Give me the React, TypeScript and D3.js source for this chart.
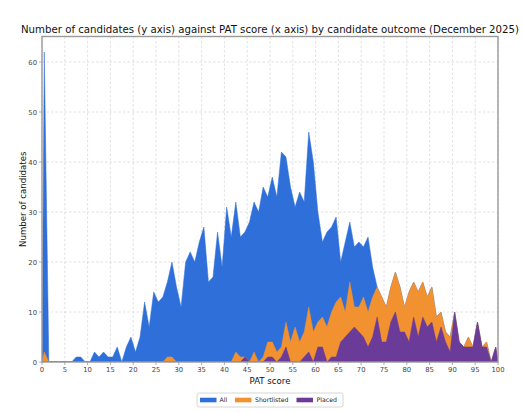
import React from "react";
import * as d3 from "d3";

// PAT score bins (lower edge); each count is plotted at the bin centre
const scoreBins = d3.range(0, 100);

const allCandidates = [
  62, 0, 0, 0, 0, 0, 0, 1, 1, 0,
  0, 2, 1, 2, 1, 1, 3, 0, 3, 5,
  2, 5, 12, 7, 14, 12, 13, 16, 20, 15,
  11, 20, 22, 20, 24, 27, 16, 17, 26, 19,
  31, 25, 32, 25, 26, 28, 32, 30, 35, 33,
  37, 33, 42, 41, 35, 31, 34, 32, 46, 40,
  30, 24, 26, 27, 29, 20, 24, 28, 23, 24,
  23, 25, 19, 15, 13, 11, 15, 18, 15, 11,
  14, 16, 14, 16, 13, 15, 9, 10, 6, 5,
  10, 4, 3, 5, 3, 8, 3, 4, 0, 3,
];

const shortlisted = [
  2, 0, 0, 0, 0, 0, 0, 0, 0, 0,
  0, 0, 0, 0, 0, 0, 0, 0, 0, 0,
  0, 0, 0, 0, 0, 0, 0, 1, 1, 0,
  0, 0, 0, 0, 0, 0, 0, 0, 0, 0,
  0, 0, 2, 1, 1, 0, 2, 0, 1, 4,
  4, 2, 3, 8, 4, 7, 4, 6, 11, 6,
  8, 9, 7, 10, 12, 13, 10, 16, 11, 11,
  13, 10, 13, 15, 13, 11, 15, 18, 15, 11,
  14, 16, 14, 16, 13, 15, 9, 10, 6, 5,
  10, 4, 3, 5, 3, 8, 3, 4, 0, 3,
];

const placed = [
  0, 0, 0, 0, 0, 0, 0, 0, 0, 0,
  0, 0, 0, 0, 0, 0, 0, 0, 0, 0,
  0, 0, 0, 0, 0, 0, 0, 0, 0, 0,
  0, 0, 0, 0, 0, 0, 0, 0, 0, 0,
  0, 0, 0, 0, 1, 0, 0, 0, 0, 1,
  1, 0, 1, 3, 0, 0, 0, 1, 2, 0,
  3, 3, 0, 1, 1, 4, 5, 6, 7, 6,
  5, 3, 5, 9, 4, 4, 8, 10, 6, 6,
  4, 9, 5, 9, 7, 8, 4, 7, 4, 2,
  10, 4, 3, 3, 3, 8, 3, 3, 0, 3,
];

const seriesNames = ["All", "Shortlisted", "Placed"];
const seriesColors = ["#2f6fd9", "#f29130", "#6a3b98"];
const xTicks = d3.range(0, 101, 5);
const yTicks = [0, 10, 20, 30, 40, 50, 60];

const W = 524;
const H = 412;
const left = 42;
const right = 498;
const top = 36.5;
const bottom = 362;
const font = "DejaVu Sans, sans-serif";

type Pt = { x: number; v: number };

// counts at bin centres, closed off with zeros at both ends of the score range
function toPoints(counts: number[]): Pt[] {
  const pts: Pt[] = scoreBins.map((b, i) => ({ x: b + 0.5, v: counts[i] }));
  return [{ x: 0, v: 0 }, ...pts, { x: 100, v: 0 }];
}

export default function App() {
  const x = d3.scaleLinear().domain([0, 100]).range([left, right]);
  const y = d3.scaleLinear().domain([0, 65.1]).range([bottom, top]);

  const area = d3
    .area<Pt>()
    .x((d) => x(d.x))
    .y0(y(0))
    .y1((d) => y(d.v));

  const series = [allCandidates, shortlisted, placed];

  // legend layout
  const legX = 197;
  const legY = 393;
  const entries = [
    { px: 200, tx: 219.5 },
    { px: 235, tx: 255 },
    { px: 296.5, tx: 316.5 },
  ];

  return (
    <svg
      width={W}
      height={H}
      style={{ position: "absolute", left: 0, top: 0, background: "#fff" }}
      fontFamily={font}
    >
      <defs>
        <clipPath id="plot">
          <rect x={left} y={top} width={right - left} height={bottom - top} />
        </clipPath>
      </defs>
      <text x={(left + right) / 2} y={33} textAnchor="middle" fontSize={10.2} fill="#111">
        {"Number of candidates (y axis) against PAT score (x axis) by candidate outcome (December 2025)"}
      </text>

      {/* grid */}
      <g stroke="#d4d4d4" strokeWidth={0.7} strokeDasharray="2.5,2">
        {xTicks.map((t) => (
          <line key={"gx" + t} x1={x(t)} x2={x(t)} y1={top} y2={bottom} />
        ))}
        {yTicks.map((t) => (
          <line key={"gy" + t} x1={left} x2={right} y1={y(t)} y2={y(t)} />
        ))}
      </g>

      <g clipPath="url(#plot)">
        {series.map((s, k) => (
          <path
            key={seriesNames[k]}
            d={area(toPoints(s)) || ""}
            fill={seriesColors[k]}
            stroke={seriesColors[k]}
            strokeWidth={0.5}
          />
        ))}
      </g>

      {/* frame */}
      <rect
        x={left}
        y={top}
        width={right - left}
        height={bottom - top}
        fill="none"
        stroke="#999"
        strokeWidth={1.4}
      />

      {/* x axis */}
      <g fontSize={6.8} fill="#444" textAnchor="middle">
        {xTicks.map((t) => (
          <g key={"xt" + t}>
            <line x1={x(t)} x2={x(t)} y1={bottom} y2={bottom + 3} stroke="#999" strokeWidth={0.8} />
            <text x={x(t)} y={372}>
              {t}
            </text>
          </g>
        ))}
      </g>
      {/* y axis */}
      <g fontSize={6.8} fill="#444" textAnchor="end">
        {yTicks.map((t) => (
          <g key={"yt" + t}>
            <line x1={left - 3} x2={left} y1={y(t)} y2={y(t)} stroke="#999" strokeWidth={0.8} />
            <text x={37} y={y(t) + 2.5}>
              {t}
            </text>
          </g>
        ))}
      </g>

      <text x={(left + right) / 2} y={383.5} textAnchor="middle" fontSize={8.6} fill="#111">
        PAT score
      </text>
      <text
        transform={`translate(25.5, ${(top + bottom) / 2}) rotate(-90)`}
        textAnchor="middle"
        fontSize={8.6}
        fill="#111"
      >
        Number of candidates
      </text>

      {/* legend */}
      <rect x={legX} y={legY} width={146} height={14} rx={2} fill="#fff" stroke="#ccc" strokeWidth={0.8} />
      {entries.map((e, k) => (
        <g key={"leg" + k}>
          <rect x={e.px} y={legY + 4.7} width={16.5} height={4.6} fill={seriesColors[k]} />
          <text x={e.tx} y={legY + 9.3} fontSize={6.2} fill="#222">
            {seriesNames[k]}
          </text>
        </g>
      ))}
    </svg>
  );
}
